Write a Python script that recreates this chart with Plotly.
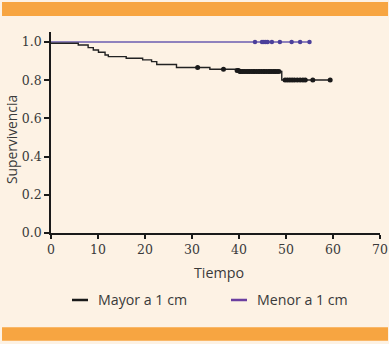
import plotly.graph_objects as go

# ---- data ----
mayor_t = [0, 5.8, 7.9, 9.0, 10.1, 11.5, 12.2, 16.0, 19.5, 21.4, 22.5, 26.7, 33.8, 39.3, 40.0, 49.1, 59.5]
mayor_s = [0.993, 0.984, 0.970, 0.958, 0.946, 0.932, 0.923, 0.915, 0.906, 0.897, 0.882, 0.866, 0.857, 0.850, 0.845, 0.801, 0.801]
mayor_cens = [31.2, 36.7, 39.6, 39.9, 40.2, 40.4, 40.8, 41.1, 41.5, 41.9, 42.2, 42.6, 43.0, 43.3, 43.7,
              44.1, 44.4, 44.8, 45.2, 45.5, 45.9, 46.3, 46.6, 47.0, 47.4, 47.7, 48.1, 48.5,
              49.8, 50.3, 50.8, 51.3, 51.8, 52.4, 53.0, 53.6, 54.1, 55.7, 59.4]

menor_t = [0, 55.0]
menor_s = [1.0, 1.0]
menor_cens = [43.4, 44.9, 45.3, 45.7, 46.1, 47.0, 48.7, 51.2, 53.0, 55.0]

x_ticks = [0, 10, 20, 30, 40, 50, 60, 70]
y_ticks = [0.0, 0.2, 0.4, 0.6, 0.8, 1.0]
y_tick_text = ["0.0", "0.2", "0.4", "0.6", "0.8", "1.0"]

labels = ["Mayor a 1 cm", "Menor a 1 cm"]
x_title = "Tiempo"
y_title = "Supervivencia"


def surv_at(ts, ss, t):
    val = ss[0]
    for ti, si in zip(ts, ss):
        if ti <= t:
            val = si
    return val


BLACK = "#1a1a1a"
PURPLE = "#6a5cb0"
PURPLE_LEG = "#6b3fa0"
BG = "#fdf2e4"
ORANGE = "#f7a541"
TXT = "#3a3a3a"
SANS = "Open Sans, Lato, sans-serif"
SERIF = "DejaVu Serif"

fig = go.Figure()
fig.add_trace(go.Scatter(x=menor_t, y=menor_s, mode="lines", line=dict(color=PURPLE, width=1.5, shape="hv"),
                         showlegend=False, name=labels[1]))
fig.add_trace(go.Scatter(x=menor_cens, y=[surv_at(menor_t, menor_s, t) for t in menor_cens], mode="markers",
                         marker=dict(color="#4b3f9a", size=4.5), showlegend=False))
fig.add_trace(go.Scatter(x=mayor_t, y=mayor_s, mode="lines", line=dict(color="#222222", width=1.4, shape="hv"),
                         showlegend=False, name=labels[0]))
fig.add_trace(go.Scatter(x=mayor_cens, y=[surv_at(mayor_t, mayor_s, t) for t in mayor_cens], mode="markers",
                         marker=dict(color=BLACK, size=5), showlegend=False))

shapes = [
    dict(type="rect", xref="paper", yref="paper", x0=-0.1489, x1=1.0243, y0=1.0796, y1=1.1493,
         fillcolor=ORANGE, line=dict(width=0), layer="below"),
    dict(type="rect", xref="paper", yref="paper", x0=-0.1489, x1=1.0243, y0=-0.5358, y1=-0.4692,
         fillcolor=ORANGE, line=dict(width=0), layer="below"),
    dict(type="line", xref="paper", yref="paper", x0=0.0638, x1=0.1125, y0=-0.3333, y1=-0.3333,
         line=dict(color=BLACK, width=2.5)),
    dict(type="line", xref="paper", yref="paper", x0=0.5471, x1=0.5957, y0=-0.3333, y1=-0.3333,
         line=dict(color=PURPLE_LEG, width=2.5)),
]

annotations = [
    dict(text=x_title, xref="paper", yref="paper", x=0.5097, y=-0.1975, showarrow=False,
         xanchor="center", yanchor="middle", font=dict(family=SANS, size=14.3, color=TXT)),
    dict(text=y_title, xref="paper", yref="paper", x=-0.1185, y=0.4627, showarrow=False, textangle=-90,
         xanchor="center", yanchor="middle", font=dict(family=SANS, size=13.8, color=TXT)),
    dict(text=labels[0], xref="paper", yref="paper", x=0.1368, y=-0.3333, showarrow=False,
         xanchor="left", yanchor="middle", font=dict(family=SANS, size=14.2, color=TXT)),
    dict(text=labels[1], xref="paper", yref="paper", x=0.6201, y=-0.3333, showarrow=False,
         xanchor="left", yanchor="middle", font=dict(family=SANS, size=14.2, color=TXT)),
]

fig.update_layout(
    width=389, height=344,
    margin=dict(l=51, r=9, t=32, b=111, pad=0, autoexpand=False),
    paper_bgcolor=BG, plot_bgcolor=BG,
    shapes=shapes, annotations=annotations,
    showlegend=False,
    xaxis=dict(range=[0, 70], tickvals=x_ticks, showgrid=False, zeroline=False, showline=True,
               automargin=False,
               linecolor=BLACK, linewidth=2, ticks="outside", ticklen=4, tickwidth=1.5, tickcolor=BLACK,
               tickfont=dict(family=SERIF, size=12.5, color=TXT), fixedrange=True),
    yaxis=dict(range=[0, 1.052], tickvals=y_ticks, ticktext=y_tick_text, showgrid=False, zeroline=False,
               automargin=False,
               showline=True, linecolor=BLACK, linewidth=1.5, ticks="outside", ticklen=5, tickwidth=1.5,
               tickcolor=BLACK, tickfont=dict(family=SERIF, size=12.5, color=TXT), fixedrange=True),
)

fig.write_html("out.html", config={"displayModeBar": False, "responsive": False},
               post_script="document.body.style.margin='0';"
                           "document.documentElement.style.overflow='hidden';"
                           "document.body.style.background='#fdf2e4';")
